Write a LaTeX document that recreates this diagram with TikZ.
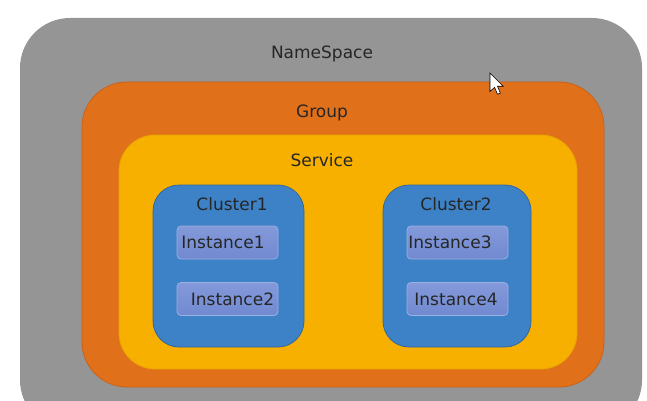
\documentclass[tikz,border=0pt]{standalone}
\usepackage{fontspec}
\setmainfont{DejaVu Sans}
\begin{document}
\begin{tikzpicture}[x=1pt,y=-1pt,
  box/.style={rectangle, inner sep=0pt, line width=0.8pt},
  lbl/.style={text=txt, font=\fontsize{17}{20}\selectfont, inner sep=0pt, anchor=center},
  inst/.style={box, top color=insttop, bottom color=instbot, draw=instedge, rounded corners=4pt, minimum width=101pt, minimum height=33pt},
  clus/.style={box, fill=clusfill, draw=clusedge, rounded corners=26pt, minimum width=150pt, minimum height=162pt}]
\definecolor{txt}{HTML}{262626}
\definecolor{nsfill}{HTML}{959595}
\definecolor{grfill}{HTML}{E1701A}
\definecolor{gredge}{HTML}{C9621A}
\definecolor{svfill}{HTML}{F8B000}
\definecolor{svedge}{HTML}{E9A200}
\definecolor{clusfill}{HTML}{3D82C6}
\definecolor{clusedge}{HTML}{31689E}
\definecolor{insttop}{HTML}{8399DA}
\definecolor{instbot}{HTML}{7189D0}
\definecolor{instedge}{HTML}{9BB0E2}
\useasboundingbox (0,0) rectangle (647,401);
\fill[white] (0,0) rectangle (647,401);
\clip (0,0) rectangle (647,401);
% boxes
\node[box, fill=nsfill, rounded corners=50pt, minimum width=622pt, minimum height=412pt] (ns) at (331,224) {};
\node[box, fill=grfill, draw=gredge, rounded corners=45pt, minimum width=522pt, minimum height=305pt] (group) at (343,234.5) {};
\node[box, fill=svfill, draw=svedge, rounded corners=36pt, minimum width=458pt, minimum height=234pt] (service) at (348,252) {};
\node[clus, minimum width=151pt] (c1) at (228.5,266) {};
\node[clus, minimum width=148pt] (c2) at (457,266) {};
\node[inst] (i1) at (227.5,242.5) {};
\node[inst] (i2) at (227.5,299) {};
\node[inst] (i3) at (457.5,242.5) {};
\node[inst] (i4) at (457.5,299) {};
% labels
\node[lbl] (tns) at (322,54) {NameSpace};
\node[lbl] (tgr) at (322,113) {Group};
\node[lbl] (tsv) at (322,160) {Service};
\node[lbl] (tc1) at (232,204) {Cluster1};
\node[lbl] (tc2) at (456,204) {Cluster2};
\node[lbl] (ti1) at (223,242) {Instance1};
\node[lbl] (ti2) at (232.5,299) {Instance2};
\node[lbl] (ti3) at (450,242) {Instance3};
\node[lbl] (ti4) at (456,299) {Instance4};
% mouse cursor
\coordinate (cur) at (490,73);
\draw[fill=white, draw=black, line width=0.6pt, line join=miter, shift={(cur)}, scale=1.15]
  (0,0) -- (0,16) -- (4,12.5) -- (6.5,18.5) -- (9,17.5) -- (6.5,11.5) -- (11.5,11.5) -- cycle;
\end{tikzpicture}
\end{document}
